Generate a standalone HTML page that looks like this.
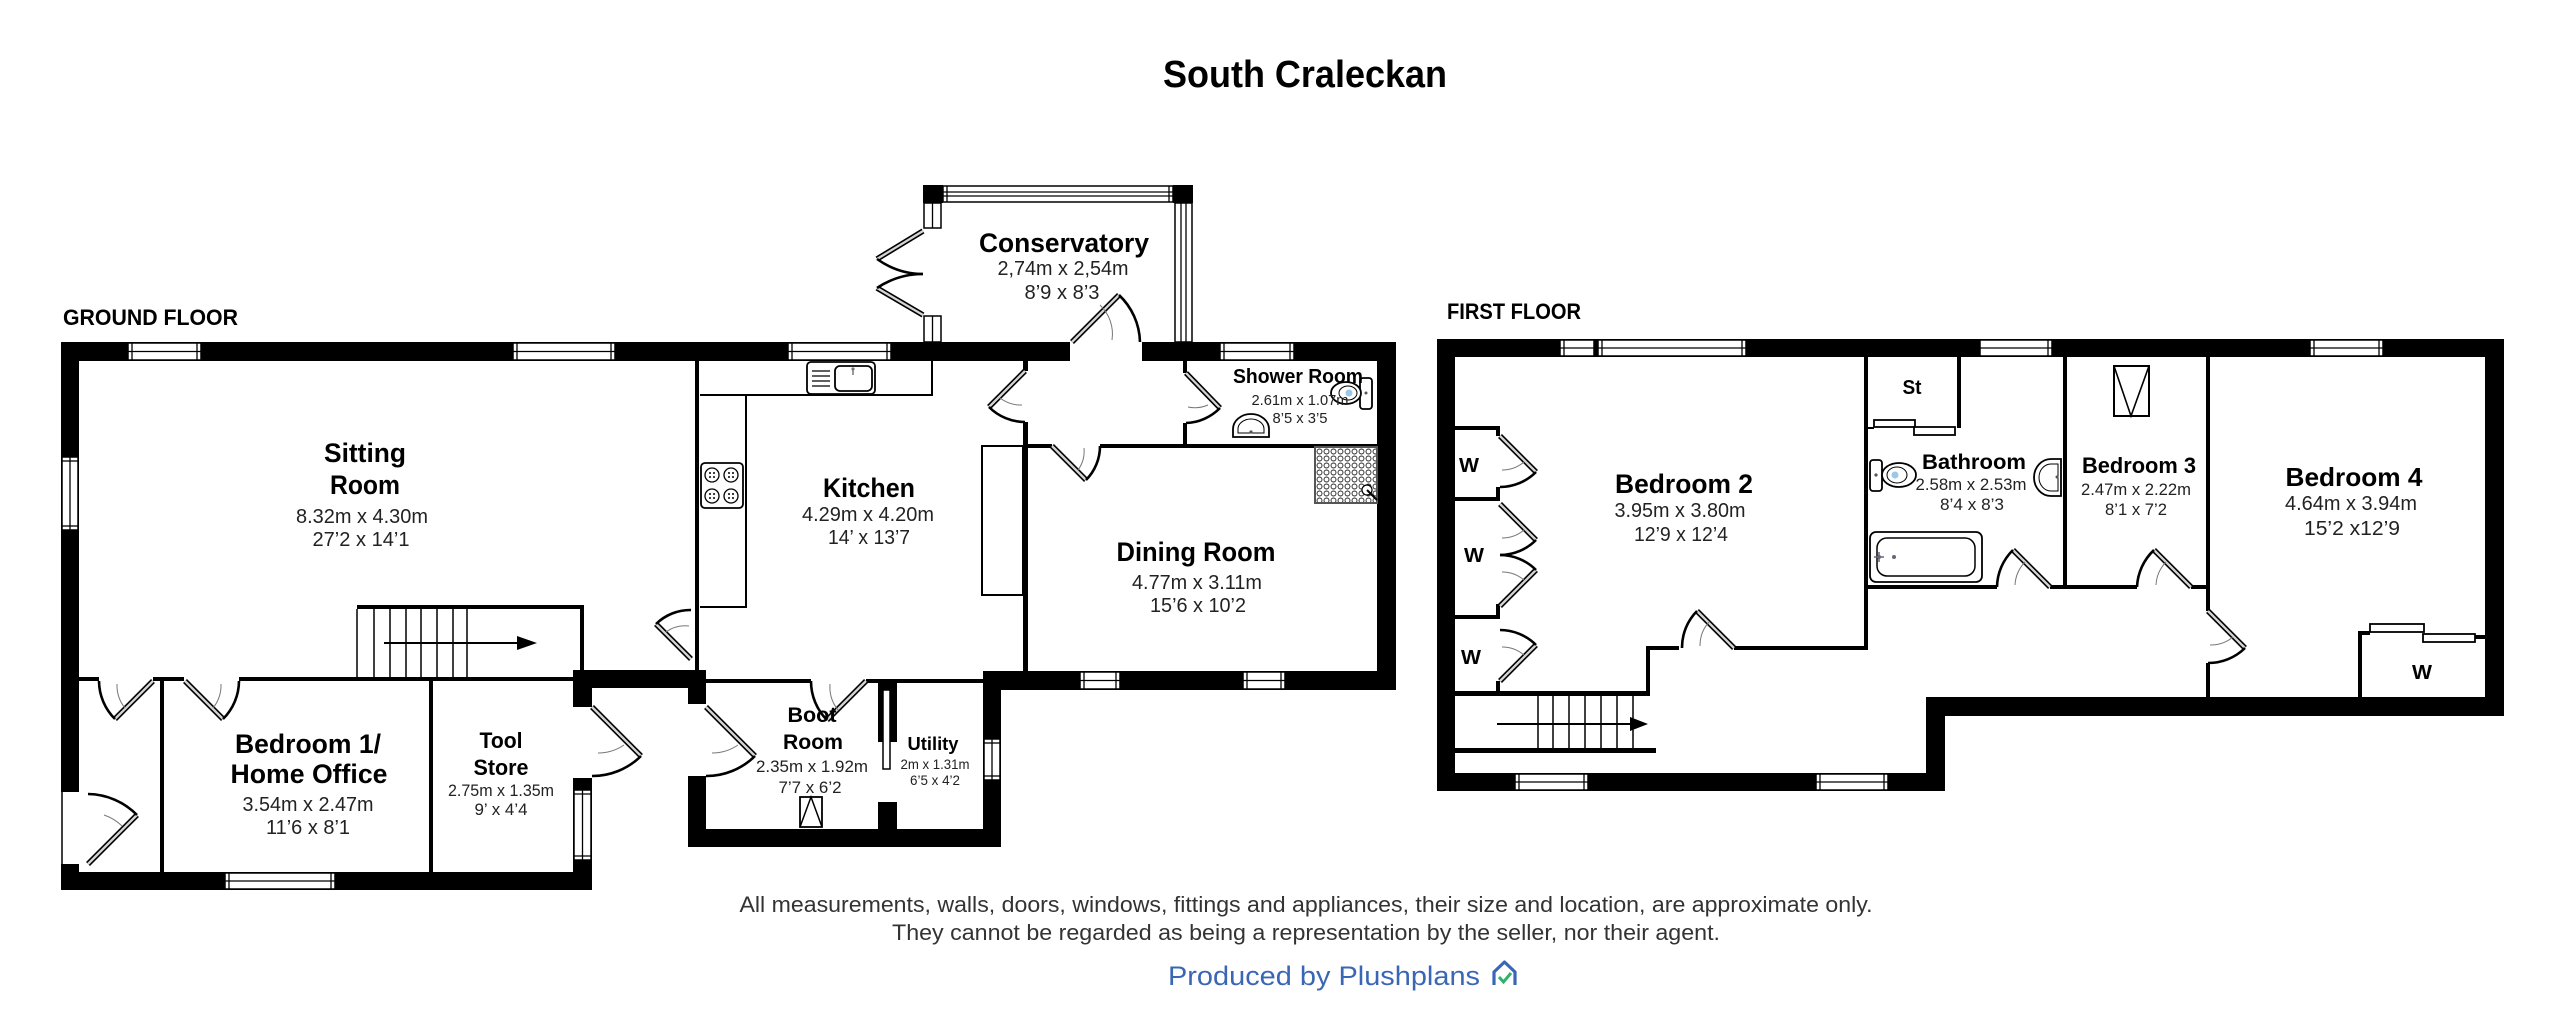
<!DOCTYPE html>
<html><head><meta charset="utf-8"><style>
html,body{margin:0;padding:0;background:#fff;width:2560px;height:1025px;overflow:hidden}
svg{display:block}
text{font-family:"Liberation Sans",Arial,sans-serif;fill:#111}
.b{font-weight:bold;fill:#000}
.d{fill:#222}
.lf{stroke:#000;stroke-width:5.5;fill:none}
.li{stroke:#d4d4d4;stroke-width:2.3;fill:none}
.ar{stroke:#000;stroke-width:2.6;fill:none}
.ia{stroke:#777;stroke-width:1;fill:none}
.win{fill:#fff;stroke:#000;stroke-width:1.5}
.wl{stroke:#000;stroke-width:1.3}
.fx{fill:#fff;stroke:#000;stroke-width:1.8}
</style></head><body>
<svg width="2560" height="1025" viewBox="0 0 2560 1025" xmlns="http://www.w3.org/2000/svg">
<defs>
<pattern id="dots" width="7" height="7" patternUnits="userSpaceOnUse"><circle cx="3.5" cy="3.5" r="2.5" fill="#fff" stroke="#222" stroke-width="0.9"/></pattern>
</defs>
<rect width="2560" height="1025" fill="#fff"/>

<!-- Title -->
<text class="b" x="1305" y="87" font-size="38" text-anchor="middle" textLength="284" lengthAdjust="spacingAndGlyphs">South Craleckan</text>
<text class="b" x="63" y="325" font-size="22" textLength="175" lengthAdjust="spacingAndGlyphs">GROUND FLOOR</text>
<text class="b" x="1447" y="319" font-size="22" textLength="134" lengthAdjust="spacingAndGlyphs">FIRST FLOOR</text>

<!-- ============ GROUND FLOOR WALLS ============ -->
<g fill="#000">
<rect x="61" y="342" width="1009" height="19"/>
<rect x="1142" y="342" width="254" height="19"/>
<rect x="61" y="342" width="18" height="450"/>
<rect x="61" y="864" width="18" height="26"/>
<rect x="61" y="872" width="531" height="18"/>
<rect x="573" y="670" width="19" height="37"/>
<rect x="573" y="778" width="19" height="112"/>
<rect x="573" y="670" width="133" height="18"/>
<rect x="688" y="670" width="18" height="34"/>
<rect x="688" y="776" width="18" height="71"/>
<rect x="688" y="829" width="313" height="18"/>
<rect x="983" y="671" width="18" height="176"/>
<rect x="983" y="671" width="413" height="19"/>
<rect x="1377" y="342" width="19" height="348"/>
<rect x="923" y="185" width="20" height="18"/>
<rect x="1173" y="185" width="20" height="18"/>
<rect x="878" y="681" width="19" height="61"/>
<rect x="878" y="802" width="19" height="27"/>
<!-- thin walls -->
<rect x="79" y="677" width="20" height="4"/>
<rect x="153" y="677" width="31" height="4"/>
<rect x="239" y="677" width="334" height="4"/>
<rect x="357" y="605" width="227" height="4"/>
<rect x="580" y="605" width="4" height="65"/>
<rect x="695" y="361" width="4" height="309"/>
<rect x="160" y="681" width="4" height="191"/>
<rect x="429" y="681" width="4" height="191"/>
<rect x="706" y="679" width="105" height="4"/>
<rect x="866" y="679" width="117" height="4"/>
<rect x="1023" y="361" width="5" height="10"/>
<rect x="1023" y="422" width="5" height="249"/>
<rect x="1028" y="444" width="24" height="4"/>
<rect x="1100" y="444" width="277" height="4"/>
<rect x="1183" y="361" width="4" height="12"/>
<rect x="1183" y="423" width="4" height="23"/>
</g>
<rect x="883" y="690" width="7" height="79" fill="#fff" stroke="#000" stroke-width="1.5"/>
<line x1="62" y1="792" x2="62" y2="864" stroke="#000" stroke-width="1.5"/>

<!-- Ground windows horizontal -->
<g>
<rect class="win" x="128" y="343" width="73" height="17"/><line class="wl" x1="128" y1="351.5" x2="201" y2="351.5"/><line class="wl" x1="132" y1="343" x2="132" y2="360"/><line class="wl" x1="197" y1="343" x2="197" y2="360"/>
<rect class="win" x="513" y="343" width="102" height="17"/><line class="wl" x1="513" y1="351.5" x2="615" y2="351.5"/><line class="wl" x1="517" y1="343" x2="517" y2="360"/><line class="wl" x1="611" y1="343" x2="611" y2="360"/>
<rect class="win" x="788" y="343" width="103" height="17"/><line class="wl" x1="788" y1="351.5" x2="891" y2="351.5"/><line class="wl" x1="792" y1="343" x2="792" y2="360"/><line class="wl" x1="887" y1="343" x2="887" y2="360"/>
<rect class="win" x="1220" y="343" width="74" height="17"/><line class="wl" x1="1220" y1="351.5" x2="1294" y2="351.5"/><line class="wl" x1="1224" y1="343" x2="1224" y2="360"/><line class="wl" x1="1290" y1="343" x2="1290" y2="360"/>
<rect class="win" x="943" y="186" width="230" height="16"/><line class="wl" x1="943" y1="192" x2="1173" y2="192"/><line class="wl" x1="943" y1="196" x2="1173" y2="196"/><line class="wl" x1="947" y1="186" x2="947" y2="202"/><line class="wl" x1="1169" y1="186" x2="1169" y2="202"/>
<rect class="win" x="225" y="873" width="110" height="16"/><line class="wl" x1="225" y1="881" x2="335" y2="881"/><line class="wl" x1="229" y1="873" x2="229" y2="889"/><line class="wl" x1="331" y1="873" x2="331" y2="889"/>
<rect class="win" x="1080" y="672" width="40" height="17"/><line class="wl" x1="1080" y1="680.5" x2="1120" y2="680.5"/><line class="wl" x1="1084" y1="672" x2="1084" y2="689"/><line class="wl" x1="1116" y1="672" x2="1116" y2="689"/>
<rect class="win" x="1243" y="672" width="42" height="17"/><line class="wl" x1="1243" y1="680.5" x2="1285" y2="680.5"/><line class="wl" x1="1247" y1="672" x2="1247" y2="689"/><line class="wl" x1="1281" y1="672" x2="1281" y2="689"/>
</g>
<!-- Ground windows vertical -->
<g>
<rect class="win" x="62" y="457" width="16" height="73"/><line class="wl" x1="70" y1="457" x2="70" y2="530"/><line class="wl" x1="62" y1="461" x2="78" y2="461"/><line class="wl" x1="62" y1="526" x2="78" y2="526"/>
<rect class="win" x="574" y="790" width="17" height="70"/><line class="wl" x1="582.5" y1="790" x2="582.5" y2="860"/><line class="wl" x1="574" y1="794" x2="591" y2="794"/><line class="wl" x1="574" y1="856" x2="591" y2="856"/>
<rect class="win" x="984" y="739" width="16" height="41"/><line class="wl" x1="992" y1="739" x2="992" y2="780"/><line class="wl" x1="984" y1="743" x2="1000" y2="743"/><line class="wl" x1="984" y1="776" x2="1000" y2="776"/>
<rect class="win" x="1175" y="203" width="17" height="139"/><line class="wl" x1="1181" y1="203" x2="1181" y2="342"/><line class="wl" x1="1186" y1="203" x2="1186" y2="342"/>
<rect class="win" x="924" y="203" width="17" height="25"/><line class="wl" x1="932.5" y1="203" x2="932.5" y2="228"/>
<rect class="win" x="924" y="316" width="17" height="26"/><line class="wl" x1="932.5" y1="316" x2="932.5" y2="342"/>
</g>

<!-- Ground stairs -->
<g stroke="#000" stroke-width="1.5">
<line x1="357" y1="609" x2="357" y2="677"/><line x1="374" y1="609" x2="374" y2="677"/><line x1="390" y1="609" x2="390" y2="677"/><line x1="406" y1="609" x2="406" y2="677"/><line x1="421" y1="609" x2="421" y2="677"/><line x1="437" y1="609" x2="437" y2="677"/><line x1="453" y1="609" x2="453" y2="677"/><line x1="467" y1="609" x2="467" y2="677"/>
<line x1="384" y1="643" x2="520" y2="643" stroke-width="2"/>
</g>
<polygon points="517,636 537,643 517,650" fill="#000"/>

<!-- Kitchen fittings -->
<g fill="none" stroke="#000" stroke-width="2">
<path d="M700,395 H746 V607 H700 M746,395 H932 V361"/>
<rect x="982" y="446" width="41" height="149"/>
</g>
<rect class="fx" x="807" y="362" width="68" height="32" rx="4" stroke-width="1.5"/>
<rect class="fx" x="835" y="366" width="37" height="25" rx="5" stroke-width="1.5"/>
<g stroke="#000" stroke-width="1.3"><line x1="812" y1="371" x2="830" y2="371"/><line x1="812" y1="376" x2="830" y2="376"/><line x1="812" y1="381" x2="830" y2="381"/><line x1="812" y1="386" x2="830" y2="386"/></g>
<circle cx="853" cy="369" r="1.6" fill="#777"/><line x1="853" y1="369" x2="853" y2="375" stroke="#777" stroke-width="1.5"/>
<rect class="fx" x="701" y="463" width="42" height="45" rx="4" stroke-width="1.5"/>
<g fill="#fff" stroke="#000" stroke-width="1.3">
<circle cx="712" cy="475" r="7"/><circle cx="731" cy="475" r="7"/><circle cx="712" cy="496" r="7"/><circle cx="731" cy="496" r="7"/>
</g>
<g fill="#000">
<circle cx="710" cy="473" r="1"/><circle cx="714" cy="473" r="1"/><circle cx="710" cy="477" r="1"/><circle cx="714" cy="477" r="1"/>
<circle cx="729" cy="473" r="1"/><circle cx="733" cy="473" r="1"/><circle cx="729" cy="477" r="1"/><circle cx="733" cy="477" r="1"/>
<circle cx="710" cy="494" r="1"/><circle cx="714" cy="494" r="1"/><circle cx="710" cy="498" r="1"/><circle cx="714" cy="498" r="1"/>
<circle cx="729" cy="494" r="1"/><circle cx="733" cy="494" r="1"/><circle cx="729" cy="498" r="1"/><circle cx="733" cy="498" r="1"/>
</g>

<!-- Shower room fittings -->
<rect x="1315" y="447" width="62" height="56" fill="url(#dots)" stroke="#555" stroke-width="2"/>
<circle cx="1367" cy="490" r="5" fill="#fff" stroke="#000" stroke-width="1.2"/>
<line x1="1367" y1="490" x2="1377" y2="500" stroke="#000" stroke-width="2"/>
<rect class="fx" x="1360" y="378" width="12" height="31" rx="3" stroke-width="1.4"/>
<ellipse class="fx" cx="1346" cy="393" rx="15" ry="11" stroke-width="1.4"/>
<ellipse cx="1348" cy="393" rx="9" ry="7" fill="none" stroke="#000" stroke-width="1"/>
<circle cx="1349" cy="393" r="3.5" fill="#9cc7e6"/>
<circle cx="1366" cy="393" r="1.5" fill="#555"/>
<path class="fx" d="M1233,437 V429 A18,15 0 0 1 1269,429 V437 Z" stroke-width="1.5"/>
<path d="M1238,433 V429 A13,10 0 0 1 1264,429 V433 Z" fill="none" stroke="#000" stroke-width="1"/>
<circle cx="1251" cy="432" r="1.6" fill="#555"/>

<!-- Boot room hatch -->
<rect x="800" y="797" width="22" height="30" fill="none" stroke="#000" stroke-width="1.8"/>
<polyline points="800,827 811,797 822,827" fill="none" stroke="#000" stroke-width="1.5"/>

<!-- Ground doors -->
<g>
<line class="lf" x1="1072" y1="342" x2="1119" y2="295"/><line class="li" x1="1072" y1="342" x2="1119" y2="295"/>
<path class="ar" d="M1119,295 A67,67 0 0 1 1140,342"/><path class="ia" d="M1100,305 A40,40 0 0 1 1112,340"/>

<line class="lf" x1="1025" y1="371" x2="989" y2="407"/><line class="li" x1="1025" y1="371" x2="989" y2="407"/>
<path class="ar" d="M989,407 A51,51 0 0 0 1025,422"/><path class="ia" d="M1000,398 A34,34 0 0 0 1022,405"/>

<line class="lf" x1="1052" y1="446" x2="1086" y2="480"/><line class="li" x1="1052" y1="446" x2="1086" y2="480"/>
<path class="ar" d="M1086,480 A48,48 0 0 0 1100,446"/><path class="ia" d="M1078,470 A32,32 0 0 0 1084,448"/>

<line class="lf" x1="1186" y1="373" x2="1220" y2="408"/><line class="li" x1="1186" y1="373" x2="1220" y2="408"/>
<path class="ar" d="M1220,408 A50,50 0 0 1 1186,423"/><path class="ia" d="M1208,405 A33,33 0 0 1 1188,407"/>

<line class="lf" x1="691" y1="659" x2="656" y2="624"/><line class="li" x1="691" y1="659" x2="656" y2="624"/>
<path class="ar" d="M656,624 A49,49 0 0 1 691,610"/><path class="ia" d="M666,632 A33,33 0 0 1 689,626"/>

<line class="lf" x1="866" y1="681" x2="827" y2="720"/><line class="li" x1="866" y1="681" x2="827" y2="720"/>
<path class="ar" d="M827,720 A55,55 0 0 1 811,681"/><path class="ia" d="M838,710 A37,37 0 0 1 830,684"/>

<line class="lf" x1="706" y1="707" x2="755" y2="756"/><line class="li" x1="706" y1="707" x2="755" y2="756"/>
<path class="ar" d="M755,756 A69,69 0 0 1 706,776"/><path class="ia" d="M738,745 A46,46 0 0 1 712,753"/>

<line class="lf" x1="592" y1="707" x2="641" y2="756"/><line class="li" x1="592" y1="707" x2="641" y2="756"/>
<path class="ar" d="M641,756 A69,69 0 0 1 592,776"/><path class="ia" d="M624,745 A46,46 0 0 1 598,753"/>

<line class="lf" x1="153" y1="681" x2="115" y2="719"/><line class="li" x1="153" y1="681" x2="115" y2="719"/>
<path class="ar" d="M115,719 A54,54 0 0 1 99,681"/><path class="ia" d="M125,708 A36,36 0 0 1 117,684"/>

<line class="lf" x1="185" y1="681" x2="223" y2="719"/><line class="li" x1="185" y1="681" x2="223" y2="719"/>
<path class="ar" d="M223,719 A54,54 0 0 0 239,681"/><path class="ia" d="M213,708 A36,36 0 0 0 221,684"/>

<line class="lf" x1="88" y1="864" x2="137" y2="815"/><line class="li" x1="88" y1="864" x2="137" y2="815"/>
<path class="ar" d="M137,815 A70,70 0 0 0 88,794"/><path class="ia" d="M122,826 A47,47 0 0 0 104,815"/>

<line class="lf" x1="923" y1="231" x2="877" y2="259"/><line class="li" x1="923" y1="231" x2="877" y2="259"/>
<path class="ar" d="M877,259 Q898,274 923,274"/>
<line class="lf" x1="923" y1="315" x2="877" y2="288"/><line class="li" x1="923" y1="315" x2="877" y2="288"/>
<path class="ar" d="M877,288 Q898,274 923,274"/>
</g>

<!-- Ground labels -->
<text class="b" x="365" y="462" font-size="27" text-anchor="middle" textLength="82" lengthAdjust="spacingAndGlyphs">Sitting</text>
<text class="b" x="365" y="494" font-size="27" text-anchor="middle" textLength="70" lengthAdjust="spacingAndGlyphs">Room</text>
<text class="d" x="362" y="523" font-size="20" text-anchor="middle" textLength="132" lengthAdjust="spacingAndGlyphs">8.32m x 4.30m</text>
<text class="d" x="361" y="546" font-size="20" text-anchor="middle" textLength="97" lengthAdjust="spacingAndGlyphs">27’2 x 14’1</text>

<text class="b" x="869" y="497" font-size="27" text-anchor="middle" textLength="92" lengthAdjust="spacingAndGlyphs">Kitchen</text>
<text class="d" x="868" y="521" font-size="20" text-anchor="middle" textLength="132" lengthAdjust="spacingAndGlyphs">4.29m x 4.20m</text>
<text class="d" x="869" y="544" font-size="20" text-anchor="middle" textLength="82" lengthAdjust="spacingAndGlyphs">14’ x 13’7</text>

<text class="b" x="1064" y="252" font-size="27" text-anchor="middle" textLength="170" lengthAdjust="spacingAndGlyphs">Conservatory</text>
<text class="d" x="1063" y="275" font-size="20" text-anchor="middle" textLength="131" lengthAdjust="spacingAndGlyphs">2,74m x 2,54m</text>
<text class="d" x="1062" y="299" font-size="20" text-anchor="middle" textLength="75" lengthAdjust="spacingAndGlyphs">8’9 x 8’3</text>

<text class="b" x="1196" y="561" font-size="27" text-anchor="middle" textLength="159" lengthAdjust="spacingAndGlyphs">Dining Room</text>
<text class="d" x="1197" y="589" font-size="20" text-anchor="middle" textLength="130" lengthAdjust="spacingAndGlyphs">4.77m x 3.11m</text>
<text class="d" x="1198" y="612" font-size="20" text-anchor="middle" textLength="96" lengthAdjust="spacingAndGlyphs">15’6 x 10’2</text>

<text class="b" x="1298" y="383" font-size="20" text-anchor="middle" textLength="130" lengthAdjust="spacingAndGlyphs">Shower Room</text>
<text class="d" x="1300" y="405" font-size="15" text-anchor="middle" textLength="97" lengthAdjust="spacingAndGlyphs">2.61m x 1.07m</text>
<text class="d" x="1300" y="423" font-size="15" text-anchor="middle" textLength="55" lengthAdjust="spacingAndGlyphs">8’5 x 3’5</text>

<text class="b" x="812" y="722" font-size="21" text-anchor="middle" textLength="49" lengthAdjust="spacingAndGlyphs">Boot</text>
<text class="b" x="813" y="749" font-size="21" text-anchor="middle" textLength="60" lengthAdjust="spacingAndGlyphs">Room</text>
<text class="d" x="812" y="772" font-size="17" text-anchor="middle" textLength="112" lengthAdjust="spacingAndGlyphs">2.35m x 1.92m</text>
<text class="d" x="810" y="793" font-size="17" text-anchor="middle" textLength="63" lengthAdjust="spacingAndGlyphs">7’7 x 6’2</text>

<text class="b" x="933" y="750" font-size="18" text-anchor="middle" textLength="51" lengthAdjust="spacingAndGlyphs">Utility</text>
<text class="d" x="935" y="769" font-size="14" text-anchor="middle" textLength="69" lengthAdjust="spacingAndGlyphs">2m x 1.31m</text>
<text class="d" x="935" y="785" font-size="14" text-anchor="middle" textLength="50" lengthAdjust="spacingAndGlyphs">6’5 x 4’2</text>

<text class="b" x="308" y="753" font-size="27" text-anchor="middle" textLength="146" lengthAdjust="spacingAndGlyphs">Bedroom 1/</text>
<text class="b" x="309" y="783" font-size="27" text-anchor="middle" textLength="157" lengthAdjust="spacingAndGlyphs">Home Office</text>
<text class="d" x="308" y="811" font-size="20" text-anchor="middle" textLength="131" lengthAdjust="spacingAndGlyphs">3.54m x 2.47m</text>
<text class="d" x="308" y="834" font-size="20" text-anchor="middle" textLength="84" lengthAdjust="spacingAndGlyphs">11’6 x 8’1</text>

<text class="b" x="501" y="748" font-size="22" text-anchor="middle" textLength="43" lengthAdjust="spacingAndGlyphs">Tool</text>
<text class="b" x="501" y="775" font-size="22" text-anchor="middle" textLength="55" lengthAdjust="spacingAndGlyphs">Store</text>
<text class="d" x="501" y="796" font-size="17" text-anchor="middle" textLength="106" lengthAdjust="spacingAndGlyphs">2.75m x 1.35m</text>
<text class="d" x="501" y="815" font-size="17" text-anchor="middle" textLength="53" lengthAdjust="spacingAndGlyphs">9’ x 4’4</text>

<!-- ============ FIRST FLOOR WALLS ============ -->
<g fill="#000">
<rect x="1437" y="339" width="1067" height="18"/>
<rect x="1437" y="339" width="18" height="452"/>
<rect x="1437" y="773" width="508" height="18"/>
<rect x="1926" y="698" width="19" height="93"/>
<rect x="1926" y="697" width="578" height="19"/>
<rect x="2485" y="339" width="19" height="377"/>
<!-- thin -->
<rect x="1455" y="426" width="45" height="4"/>
<rect x="1455" y="497" width="45" height="4"/>
<rect x="1455" y="615" width="45" height="4"/>
<rect x="1496" y="426" width="4" height="10"/>
<rect x="1496" y="487" width="4" height="14"/>
<rect x="1496" y="604" width="4" height="15"/>
<rect x="1496" y="681" width="4" height="12"/>
<rect x="1455" y="691" width="195" height="5"/>
<rect x="1646" y="646" width="33" height="4"/>
<rect x="1734" y="646" width="134" height="4"/>
<rect x="1646" y="646" width="4" height="50"/>
<rect x="1455" y="748" width="201" height="5"/>
<rect x="1864" y="357" width="4" height="293"/>
<rect x="1957" y="357" width="4" height="71"/>
<rect x="1868" y="585" width="129" height="4"/>
<rect x="2050" y="585" width="87" height="4"/>
<rect x="2191" y="585" width="19" height="4"/>
<rect x="2063" y="357" width="4" height="230"/>
<rect x="2206" y="357" width="4" height="254"/>
<rect x="2206" y="663" width="4" height="34"/>
<rect x="2358" y="631" width="4" height="66"/>
<rect x="2358" y="631" width="12" height="4"/>
<rect x="2475" y="635" width="10" height="4"/>
<rect x="1868" y="427" width="6" height="2"/>
</g>
<rect class="fx" x="2370" y="624" width="54" height="8" stroke-width="1.5"/>
<rect class="fx" x="2423" y="634" width="52" height="8" stroke-width="1.5"/>
<rect class="fx" x="1874" y="420" width="41" height="7" stroke-width="1.5"/>
<rect class="fx" x="1914" y="427" width="41" height="8" stroke-width="1.5"/>

<!-- First windows -->
<g>
<rect class="win" x="1560" y="340" width="34" height="16"/><line class="wl" x1="1560" y1="348" x2="1594" y2="348"/><line class="wl" x1="1564" y1="340" x2="1564" y2="356"/>
<rect class="win" x="1598" y="340" width="148" height="16"/><line class="wl" x1="1598" y1="348" x2="1746" y2="348"/><line class="wl" x1="1602" y1="340" x2="1602" y2="356"/><line class="wl" x1="1742" y1="340" x2="1742" y2="356"/>
<rect class="win" x="1980" y="340" width="72" height="16"/><line class="wl" x1="1980" y1="348" x2="2052" y2="348"/><line class="wl" x1="2048" y1="340" x2="2048" y2="356"/>
<rect class="win" x="2310" y="340" width="73" height="16"/><line class="wl" x1="2310" y1="348" x2="2383" y2="348"/><line class="wl" x1="2314" y1="340" x2="2314" y2="356"/><line class="wl" x1="2379" y1="340" x2="2379" y2="356"/>
<rect class="win" x="1515" y="774" width="73" height="16"/><line class="wl" x1="1515" y1="782" x2="1588" y2="782"/><line class="wl" x1="1519" y1="774" x2="1519" y2="790"/><line class="wl" x1="1584" y1="774" x2="1584" y2="790"/>
<rect class="win" x="1816" y="774" width="72" height="16"/><line class="wl" x1="1816" y1="782" x2="1888" y2="782"/><line class="wl" x1="1820" y1="774" x2="1820" y2="790"/><line class="wl" x1="1884" y1="774" x2="1884" y2="790"/>
</g>

<!-- First stairs -->
<g stroke="#000" stroke-width="1.5">
<line x1="1538" y1="696" x2="1538" y2="748"/><line x1="1553" y1="696" x2="1553" y2="748"/><line x1="1569" y1="696" x2="1569" y2="748"/><line x1="1585" y1="696" x2="1585" y2="748"/><line x1="1601" y1="696" x2="1601" y2="748"/><line x1="1617" y1="696" x2="1617" y2="748"/><line x1="1633" y1="696" x2="1633" y2="748"/>
<line x1="1497" y1="724" x2="1632" y2="724" stroke-width="2"/>
</g>
<polygon points="1630,717 1648,724 1630,731" fill="#000"/>

<!-- Bathroom fittings -->
<rect class="fx" x="1870" y="460" width="12" height="31" rx="3" stroke-width="1.5"/>
<circle cx="1876" cy="475" r="1.6" fill="#555"/>
<ellipse class="fx" cx="1899" cy="475" rx="17" ry="12" stroke-width="1.5"/>
<ellipse cx="1897" cy="475" rx="10" ry="8" fill="none" stroke="#000" stroke-width="1"/>
<circle cx="1895" cy="475" r="3.5" fill="#9cc7e6"/>
<rect class="fx" x="1870" y="532" width="112" height="50" rx="6" stroke-width="1.6"/>
<rect x="1877" y="538" width="98" height="38" rx="10" fill="none" stroke="#000" stroke-width="1.5"/>
<circle cx="1879" cy="557" r="2" fill="#667"/><line x1="1874" y1="557" x2="1884" y2="557" stroke="#667" stroke-width="1.5"/><line x1="1879" y1="552" x2="1879" y2="562" stroke="#667" stroke-width="1.5"/>
<circle cx="1894" cy="557" r="2" fill="#667"/>
<path class="fx" d="M2061,459 V496 H2051 A17,18.5 0 0 1 2051,459 Z" stroke-width="1.5"/>
<path d="M2058,464 V491 H2051 A12,13.5 0 0 1 2051,464 Z" fill="none" stroke="#000" stroke-width="1"/>
<circle cx="2057" cy="477" r="1.5" fill="#555"/>

<!-- Bedroom 3 skylight -->
<rect x="2114" y="366" width="35" height="50" fill="none" stroke="#000" stroke-width="2"/>
<polyline points="2114,366 2131,416 2149,366" fill="none" stroke="#000" stroke-width="1.6"/>

<!-- First doors -->
<g>
<line class="lf" x1="1734" y1="648" x2="1697" y2="611"/><line class="li" x1="1734" y1="648" x2="1697" y2="611"/>
<path class="ar" d="M1697,611 A52,52 0 0 0 1682,648"/><path class="ia" d="M1709,622 A35,35 0 0 0 1700,646"/>

<line class="lf" x1="2050" y1="587" x2="2013" y2="550"/><line class="li" x1="2050" y1="587" x2="2013" y2="550"/>
<path class="ar" d="M2013,550 A53,53 0 0 0 1997,587"/><path class="ia" d="M2025,562 A36,36 0 0 0 2015,585"/>

<line class="lf" x1="2191" y1="587" x2="2154" y2="550"/><line class="li" x1="2191" y1="587" x2="2154" y2="550"/>
<path class="ar" d="M2154,550 A54,54 0 0 0 2137,587"/><path class="ia" d="M2166,562 A36,36 0 0 0 2156,585"/>

<line class="lf" x1="2208" y1="611" x2="2245" y2="648"/><line class="li" x1="2208" y1="611" x2="2245" y2="648"/>
<path class="ar" d="M2245,648 A52,52 0 0 1 2208,663"/><path class="ia" d="M2233,637 A35,35 0 0 1 2210,645"/>

<line class="lf" x1="1500" y1="436" x2="1536" y2="472"/><line class="li" x1="1500" y1="436" x2="1536" y2="472"/>
<path class="ar" d="M1536,472 A51,51 0 0 1 1500,487"/><path class="ia" d="M1524,462 A34,34 0 0 1 1502,470"/>

<line class="lf" x1="1500" y1="504" x2="1536" y2="540"/><line class="li" x1="1500" y1="504" x2="1536" y2="540"/>
<path class="ar" d="M1536,540 A51,51 0 0 1 1500,555"/><path class="ia" d="M1524,530 A34,34 0 0 1 1502,538"/>

<line class="lf" x1="1500" y1="606" x2="1536" y2="570"/><line class="li" x1="1500" y1="606" x2="1536" y2="570"/>
<path class="ar" d="M1536,570 A51,51 0 0 0 1500,555"/><path class="ia" d="M1524,580 A34,34 0 0 0 1502,572"/>

<line class="lf" x1="1500" y1="681" x2="1536" y2="645"/><line class="li" x1="1500" y1="681" x2="1536" y2="645"/>
<path class="ar" d="M1536,645 A51,51 0 0 0 1500,630"/><path class="ia" d="M1524,655 A34,34 0 0 0 1502,647"/>
</g>

<!-- First labels -->
<text class="b" x="1684" y="493" font-size="27" text-anchor="middle" textLength="138" lengthAdjust="spacingAndGlyphs">Bedroom 2</text>
<text class="d" x="1680" y="517" font-size="20" text-anchor="middle" textLength="131" lengthAdjust="spacingAndGlyphs">3.95m x 3.80m</text>
<text class="d" x="1681" y="541" font-size="20" text-anchor="middle" textLength="94" lengthAdjust="spacingAndGlyphs">12’9 x 12’4</text>
<text class="b" x="1912" y="394" font-size="20" text-anchor="middle" textLength="19" lengthAdjust="spacingAndGlyphs">St</text>
<text class="b" x="1469" y="472" font-size="20" text-anchor="middle" textLength="20" lengthAdjust="spacingAndGlyphs">W</text>
<text class="b" x="1474" y="562" font-size="20" text-anchor="middle" textLength="20" lengthAdjust="spacingAndGlyphs">W</text>
<text class="b" x="1471" y="664" font-size="20" text-anchor="middle" textLength="20" lengthAdjust="spacingAndGlyphs">W</text>
<text class="b" x="1974" y="469" font-size="21" text-anchor="middle" textLength="104" lengthAdjust="spacingAndGlyphs">Bathroom</text>
<text class="d" x="1971" y="490" font-size="17" text-anchor="middle" textLength="111" lengthAdjust="spacingAndGlyphs">2.58m x 2.53m</text>
<text class="d" x="1972" y="510" font-size="17" text-anchor="middle" textLength="64" lengthAdjust="spacingAndGlyphs">8’4 x 8’3</text>
<text class="b" x="2139" y="473" font-size="22" text-anchor="middle" textLength="114" lengthAdjust="spacingAndGlyphs">Bedroom 3</text>
<text class="d" x="2136" y="495" font-size="17" text-anchor="middle" textLength="110" lengthAdjust="spacingAndGlyphs">2.47m x 2.22m</text>
<text class="d" x="2136" y="515" font-size="17" text-anchor="middle" textLength="62" lengthAdjust="spacingAndGlyphs">8’1 x 7’2</text>
<text class="b" x="2354" y="486" font-size="26" text-anchor="middle" textLength="137" lengthAdjust="spacingAndGlyphs">Bedroom 4</text>
<text class="d" x="2351" y="510" font-size="20" text-anchor="middle" textLength="132" lengthAdjust="spacingAndGlyphs">4.64m x 3.94m</text>
<text class="d" x="2352" y="535" font-size="20" text-anchor="middle" textLength="96" lengthAdjust="spacingAndGlyphs">15’2  x12’9</text>
<text class="b" x="2422" y="679" font-size="20" text-anchor="middle" textLength="20" lengthAdjust="spacingAndGlyphs">W</text>

<!-- Footer -->
<text x="1306" y="912" font-size="22" text-anchor="middle" fill="#333" style="fill:#333" textLength="1133" lengthAdjust="spacingAndGlyphs">All measurements, walls, doors, windows, fittings and appliances, their size and location, are approximate only.</text>
<text x="1306" y="940" font-size="22" text-anchor="middle" style="fill:#333" textLength="828" lengthAdjust="spacingAndGlyphs">They cannot be regarded as being a representation by the seller, nor their agent.</text>
<text x="1168" y="985" font-size="27" style="fill:#3a67b5" textLength="312" lengthAdjust="spacingAndGlyphs">Produced by Plushplans</text>
<path d="M1494,985 V972 L1504.5,962 L1515,972 V985" fill="none" stroke="#3a67b5" stroke-width="3.2" stroke-linejoin="round"/>
<path d="M1499,977 L1503.5,982 L1511,973" fill="none" stroke="#2fb36b" stroke-width="3"/>
</svg>
</body></html>
